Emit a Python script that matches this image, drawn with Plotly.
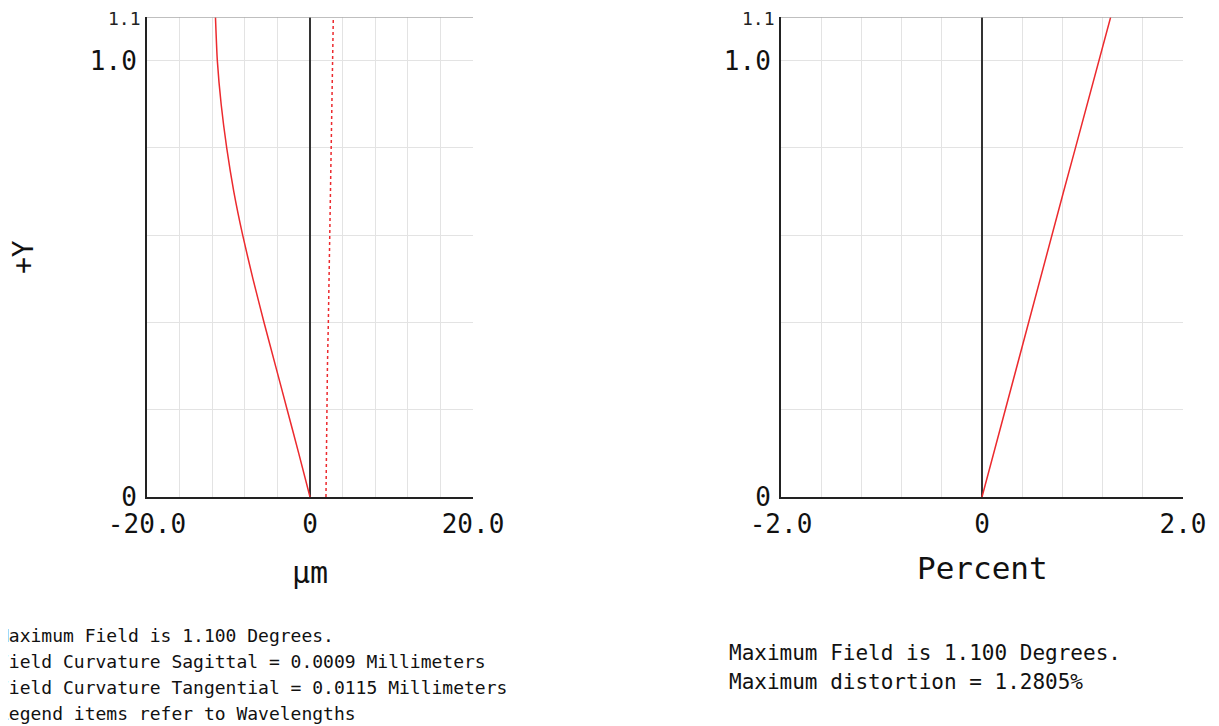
import plotly.graph_objects as go

# ---- data ----
field = [0.0, 0.1, 0.2, 0.3, 0.4, 0.5, 0.6, 0.7, 0.8, 0.9, 1.0, 1.1]
tangential_um = [0.0, -1.38, -2.8, -4.22, -5.64, -7.0, -8.26, -9.35, -10.22, -10.9, -11.37, -11.6]
sagittal_um = [1.96, 2.0, 2.05, 2.14, 2.25, 2.35, 2.45, 2.54, 2.62, 2.71, 2.8, 2.86]
distortion_pct = [0.0, 0.115, 0.232, 0.35, 0.465, 0.58, 0.695, 0.812, 0.93, 1.046, 1.165, 1.2805]

fc_xticks = [-20, -16, -12, -8, -4, 0, 4, 8, 12, 16, 20]
fc_xlabels = ["-20.0", "", "", "", "", "0", "", "", "", "", "20.0"]
dist_xticks = [-2.0, -1.6, -1.2, -0.8, -0.4, 0, 0.4, 0.8, 1.2, 1.6, 2.0]
dist_xlabels = ["-2.0", "", "", "", "", "0", "", "", "", "", "2.0"]
yticks = [0, 0.2, 0.4, 0.6, 0.8, 1.0]
ylabels = ["0", "", "", "", "", "1.0"]

left_notes = ["Maximum Field is 1.100 Degrees.",
              "Field Curvature Sagittal = 0.0009 Millimeters",
              "Field Curvature Tangential = 0.0115 Millimeters",
              "Legend items refer to Wavelengths"]
right_notes = ["Maximum Field is 1.100 Degrees.",
               "Maximum distortion = 1.2805%"]

W, H = 1219, 726
OFF = 8  # page body margin offset
FONT = "DejaVu Sans Mono"
RED = "#ec2a2e"

def px_x(p):
    return (p - OFF) / W

def px_y(p):
    return 1 - (p - OFF) / H

fig = go.Figure()
fig.add_trace(go.Scatter(x=tangential_um, y=field, mode="lines",
                         line=dict(color=RED, width=1.5, shape="spline", smoothing=0.6),
                         xaxis="x", yaxis="y", showlegend=False))
fig.add_trace(go.Scatter(x=sagittal_um, y=field, mode="lines", line=dict(color=RED, width=1.5, dash="dot"),
                         xaxis="x", yaxis="y", showlegend=False))
fig.add_trace(go.Scatter(x=distortion_pct, y=field, mode="lines", line=dict(color=RED, width=1.5),
                         xaxis="x2", yaxis="y2", showlegend=False))

ydom = [px_y(497), px_y(17)]
axis_common = dict(showgrid=True, gridcolor="#e3e3e3", gridwidth=1, automargin=False,
                   tickfont=dict(family=FONT, size=26, color="#111"), ticks="", showline=True,
                   linecolor="#222", linewidth=2)

fig.update_layout(
    width=W, height=H, margin=dict(l=0, r=0, t=0, b=0),
    paper_bgcolor="white", plot_bgcolor="white",
    xaxis=dict(domain=[px_x(147), px_x(473)], range=[-20, 20], tickmode="array",
               tickvals=fc_xticks, ticktext=fc_xlabels, anchor="y", ticklabelstandoff=3,
               zeroline=True, zerolinecolor="#333", zerolinewidth=1.5, **axis_common),
    yaxis=dict(domain=ydom, range=[0, 1.1], tickmode="array", tickvals=yticks, ticktext=ylabels,
               anchor="x", zeroline=False, ticklabelstandoff=3, **axis_common),
    xaxis2=dict(domain=[px_x(781), px_x(1183)], range=[-2, 2], tickmode="array",
                tickvals=dist_xticks, ticktext=dist_xlabels, anchor="y2", ticklabelstandoff=3,
                zeroline=True, zerolinecolor="#333", zerolinewidth=1.5, **axis_common),
    yaxis2=dict(domain=ydom, range=[0, 1.1], tickmode="array", tickvals=yticks, ticktext=ylabels,
                anchor="x2", zeroline=False, ticklabelstandoff=3, **axis_common),
)

# top border lines at y = 1.1
for xr, yr in (("x domain", "y"), ("x2 domain", "y2")):
    fig.add_shape(type="line", xref=xr, yref=yr, x0=0, x1=1, y0=1.1, y1=1.1,
                  line=dict(color="#aaaaaa", width=1.5))

ann = []
# small 1.1 top labels
for xr, yr in (("x domain", "y"), ("x2 domain", "y2")):
    ann.append(dict(text="1.1", xref=xr, yref=yr, x=0, y=1.1, xanchor="right", yanchor="middle",
                    xshift=-4, yshift=-2, showarrow=False, font=dict(family=FONT, size=18, color="#222")))
# axis titles
ann.append(dict(text="µm", xref="paper", yref="paper", x=px_x(310), y=px_y(572),
                xanchor="center", yanchor="middle", showarrow=False,
                font=dict(family=FONT, size=30, color="#111")))
ann.append(dict(text="Percent", xref="paper", yref="paper", x=px_x(982), y=px_y(568),
                xanchor="center", yanchor="middle", showarrow=False,
                font=dict(family=FONT, size=31, color="#111")))
ann.append(dict(text="+Y", xref="paper", yref="paper", x=px_x(23), y=px_y(257), textangle=-90,
                xanchor="center", yanchor="middle", showarrow=False,
                font=dict(family=FONT, size=28, color="#111")))
# notes (left block starts just off the canvas edge, as in the reference)
for i, t in enumerate(left_notes):
    ann.append(dict(text=t, xref="paper", yref="paper", x=px_x(-3), y=px_y(635 + 26 * i),
                    xanchor="left", yanchor="middle", showarrow=False, borderpad=0,
                    font=dict(family=FONT, size=18, color="#111")))
for i, t in enumerate(right_notes):
    ann.append(dict(text=t, xref="paper", yref="paper", x=px_x(728), y=px_y(653 + 29 * i),
                    xanchor="left", yanchor="middle", showarrow=False, borderpad=0,
                    font=dict(family=FONT, size=21, color="#111")))
fig.update_layout(annotations=ann)

fig.write_html("out.html")
